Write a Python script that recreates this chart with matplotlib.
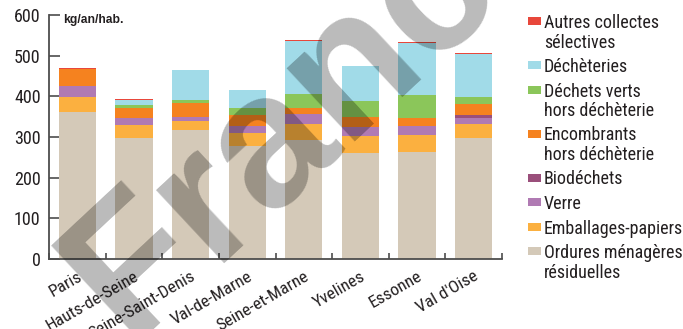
import matplotlib
matplotlib.use("Agg")
import matplotlib.pyplot as plt
from matplotlib import font_manager
from matplotlib.patches import Rectangle

# Waste collected per inhabitant by département (kg/an/hab.)
departements = ["Paris", "Hauts-de-Seine", "Seine-Saint-Denis", "Val-de-Marne",
                "Seine-et-Marne", "Yvelines", "Essonne", "Val d'Oise"]
ordures_menageres = [362, 297, 317, 278, 293, 260, 263, 297]
emballages_papiers = [36, 32, 22, 32, 39, 42, 42, 35]
verre = [27, 18, 10, 17, 24, 22, 22, 14]
biodechets = [0, 0, 0, 0, 0, 0, 0, 8]
encombrants = [42, 24, 34, 27, 16, 25, 19, 27]
dechets_verts = [0, 7, 8, 17, 34, 39, 57, 17]
decheteries = [0, 13, 73, 44, 130, 86, 128, 106]
autres_collectes = [2, 3, 0, 0, 3, 0, 2, 2]

series = [
    ("Ordures ménagères\nrésiduelles", ordures_menageres, "#d4c9b8"),
    ("Emballages-papiers", emballages_papiers, "#fbb040"),
    ("Verre", verre, "#b07ab3"),
    ("Biodéchets", biodechets, "#9a4f7b"),
    ("Encombrants\nhors déchèterie", encombrants, "#f5821f"),
    ("Déchets verts\nhors déchèterie", dechets_verts, "#8bc65a"),
    ("Déchèteries", decheteries, "#a1dbe8"),
    ("Autres collectes\nsélectives", autres_collectes, "#e8473b"),
]
yticks = [0, 100, 200, 300, 400, 500, 600]
unit_label = "kg/an/hab."
watermark = "France"

available = {f.name for f in font_manager.fontManager.ttflist}
narrow = next((f for f in ["Liberation Sans Narrow", "DejaVu Sans Condensed",
                           "Roboto Condensed", "Liberation Sans"] if f in available),
              "DejaVu Sans")
plt.rcParams["font.family"] = [narrow, "DejaVu Sans"]

W, H = 683, 329
fig = plt.figure(figsize=(W / 100, H / 100), dpi=100)


def fx(px):
    return px / W


def fy(py):
    return 1 - py / H


ax = fig.add_axes([fx(49), fy(259), fx(502) - fx(49), fy(15) - fy(259)])

text_color = "#231f20"
spine_color = "#4d4d4d"

x = range(len(departements))
bottom = [0] * len(departements)
for label, values, color in series:
    ax.bar(x, values, bottom=bottom, width=0.66, color=color, linewidth=0, zorder=2)
    bottom = [b + v for b, v in zip(bottom, values)]

ax.set_xlim(-0.5, len(departements) - 0.5)
ax.set_ylim(0, 600)
for side in ("top", "right"):
    ax.spines[side].set_visible(False)
for side in ("left", "bottom"):
    ax.spines[side].set_color(spine_color)
    ax.spines[side].set_linewidth(1.3)

ax.set_yticks(yticks)
ax.set_yticklabels([str(v) for v in yticks], fontsize=13, color=text_color)
ax.tick_params(axis="y", direction="in", length=8, width=1.2, color=spine_color, pad=6)

ax.set_xticks(list(x))
ax.set_xticklabels(departements, fontsize=12.5, color=text_color, rotation=30,
                   ha="right", va="top", rotation_mode="anchor")
ax.tick_params(axis="x", which="major", length=0, pad=7)
ax.set_xticks([i - 0.5 for i in range(len(departements) + 1)], minor=True)
ax.tick_params(axis="x", which="minor", direction="in", length=4, width=1.2,
               color=spine_color)

fig.text(fx(63), fy(23), unit_label, fontsize=8.7, fontweight="bold",
         family="Liberation Sans", color=text_color, va="baseline")

# Legend, top entry first, each patch aligned with the first text line
baseline = 28
line_pitch = 19.5
entry_gap = 24.5
for label, values, color in reversed(series):
    fig.patches.append(Rectangle((fx(528), fy(baseline - 3)), fx(13), fy(0) - fy(8),
                                 transform=fig.transFigure, color=color, linewidth=0))
    lines = label.split("\n")
    for i, line in enumerate(lines):
        fig.text(fx(544), fy(baseline + i * line_pitch), line, fontsize=13,
                 color=text_color, va="baseline", ha="left")
    baseline += (len(lines) - 1) * line_pitch + entry_gap

fig.text(fx(128), fy(342), watermark, rotation=43, rotation_mode="anchor",
         ha="left", va="baseline", fontsize=136, fontweight="bold",
         family="Liberation Sans", color="black", alpha=0.27, zorder=10)

fig.savefig("out.png", dpi=100)
